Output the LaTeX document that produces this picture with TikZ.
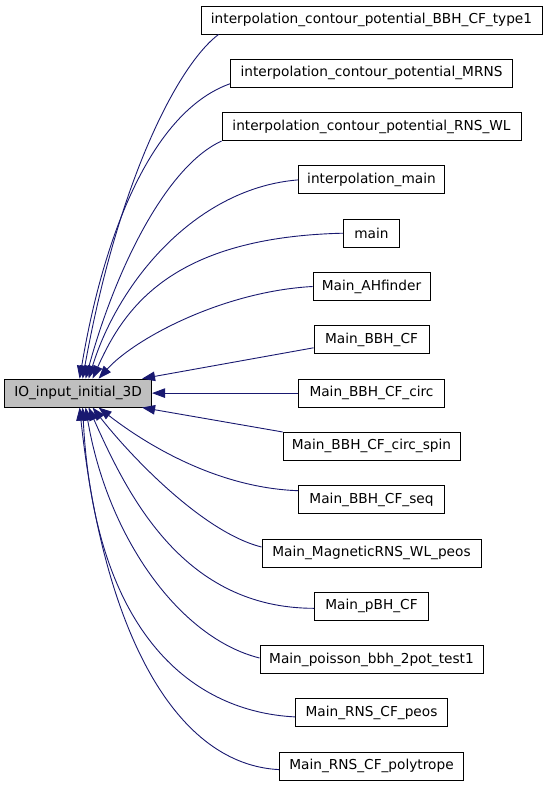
\documentclass[tikz,border=0pt]{standalone}
\usepackage{fontspec}
\setmainfont{DejaVu Sans}
\usetikzlibrary{arrows.meta, positioning}

\definecolor{edgeblue}{RGB}{25,25,112}
\definecolor{curgray}{RGB}{191,191,191}

\begin{document}
\begin{tikzpicture}[x=1pt, y=1pt, node distance=24.4pt]
        \tikzstyle{caller} = [rectangle, minimum height=28pt, inner sep=0pt, text centered, draw=black, line width=0.9pt, font=\fontsize{13.7}{16}\selectfont]
        \tikzstyle{current} = [caller, fill=curgray]
        \tikzstyle{arrow} = [line width=0.9pt, draw=edgeblue, <-, >={Triangle[length=13pt,width=9.5pt]}]

        \useasboundingbox (0,0) rectangle (549,-787);

        \node (type1) [caller, minimum width=341pt] at (371.5,-20) {interpolation\_contour\_potential\_BBH\_CF\_type1};
        \node (mrns) [caller, minimum width=282pt, below=of type1] {interpolation\_contour\_potential\_MRNS};
        \node (rnswl) [caller, minimum width=299pt, below=of mrns] {interpolation\_contour\_potential\_RNS\_WL};
        \node (imain) [caller, minimum width=146pt, below=of rnswl] {interpolation\_main};
        \node (mainfn) [caller, minimum width=56pt, below=of imain] {main};
        \node (ahfinder) [caller, minimum width=117pt, below=of mainfn] {Main\_AHfinder};
        \node (bbhcf) [caller, minimum width=115pt, below=of ahfinder] {Main\_BBH\_CF};
        \node (circ) [caller, minimum width=146pt, below=of bbhcf] {Main\_BBH\_CF\_circ};
        \node (spin) [caller, minimum width=177pt, below=of circ] {Main\_BBH\_CF\_circ\_spin};
        \node (seq) [caller, minimum width=146pt, below=of spin] {Main\_BBH\_CF\_seq};
        \node (magnetic) [caller, minimum width=219pt, below=of seq] {Main\_MagneticRNS\_WL\_peos};
        \node (pbh) [caller, minimum width=114pt, below=of magnetic] {Main\_pBH\_CF};
        \node (poisson) [caller, minimum width=223pt, below=of pbh] {Main\_poisson\_bbh\_2pot\_test1};
        \node (peos) [caller, minimum width=152pt, below=of poisson] {Main\_RNS\_CF\_peos};
        \node (polytrope) [caller, minimum width=184pt, below=of peos] {Main\_RNS\_CF\_polytrope};

        \node (io) [current, minimum width=147pt, left=146pt of circ] {IO\_input\_initial\_3D};

        % callers above
        \draw [arrow] ([xshift=4.5pt]io.north) .. controls +(36,200) and +(-40,-30) .. ([xshift=18pt]type1.south west);
        \draw [arrow] ([xshift=1.5pt]io.north) .. controls +(25,150) and +(-76,-27) .. ([yshift=4pt]mrns.south west);
        \draw [arrow] ([xshift=7.5pt]io.north) .. controls +(30,110) and +(-55,-25) .. (rnswl.south west);
        \draw [arrow] ([xshift=10.5pt]io.north) .. controls +(31,100) and +(-100,-8) .. (imain.west);
        \draw [arrow] ([xshift=14.5pt]io.north) .. controls +(32,72) and +(-170,-4) .. (mainfn.west);
        \draw [arrow] ([xshift=20.5pt]io.north) .. controls +(36,40) and +(-90,-5) .. (ahfinder.west);
        \draw [arrow] ([xshift=-10pt]io.north east) -- ([yshift=-8pt]bbhcf.west);
        \draw [arrow] (io.east) -- (circ.west);
        \draw [arrow] ([xshift=-10pt]io.south east) -- (spin.north west);
        % callers below
        \draw [arrow] ([xshift=20.5pt]io.south) .. controls +(45,-35) and +(-83,3) .. ([yshift=9pt]seq.west);
        \draw [arrow] ([xshift=14.5pt]io.south) .. controls +(35,-45) and +(-60,15) .. ([yshift=6pt]magnetic.west);
        \draw [arrow] ([xshift=10.5pt]io.south) .. controls +(40,-90) and +(-130,0) .. ([yshift=-2pt]pbh.west);
        \draw [arrow] ([xshift=7.5pt]io.south) .. controls +(22,-130) and +(-80,20) .. ([yshift=1.6pt]poisson.west);
        \draw [arrow] ([xshift=4.5pt]io.south) .. controls +(12,-230) and +(-100,5) .. ([yshift=-4pt]peos.west);
        \draw [arrow] ([xshift=1.5pt]io.south) .. controls +(25,-233) and +(-100,5) .. ([yshift=-3.4pt]polytrope.west);
    \end{tikzpicture}
\end{document}
